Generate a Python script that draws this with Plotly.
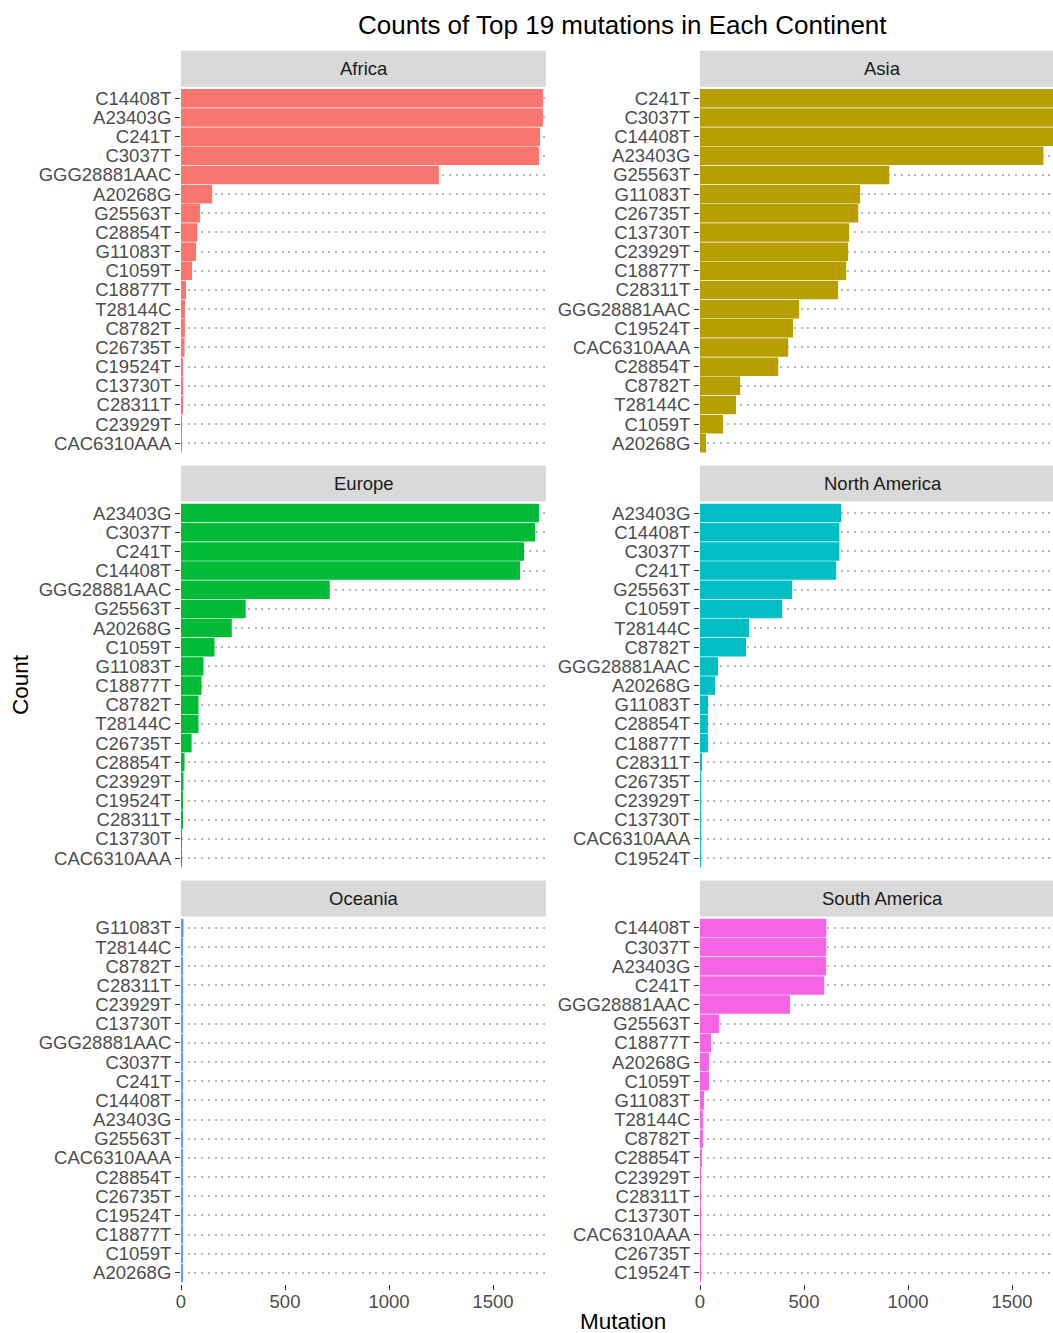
import plotly.graph_objects as go

W, H = 1053, 1333

continents = ["Africa", "Asia", "Europe", "North America", "Oceania", "South America"]
colors = ["#F8766D", "#B79F00", "#00BA38", "#00BFC4", "#619CFF", "#F564E3"]

africa_mutations = ["C14408T", "A23403G", "C241T", "C3037T", "GGG28881AAC", "A20268G", "G25563T",
                    "C28854T", "G11083T", "C1059T", "C18877T", "T28144C", "C8782T", "C26735T",
                    "C19524T", "C13730T", "C28311T", "C23929T", "CAC6310AAA"]
africa_counts = [1740, 1740, 1726, 1721, 1240, 150, 91, 78, 72, 53, 24, 19, 19, 17, 8, 8, 5, 4, 4]

asia_mutations = ["C241T", "C3037T", "C14408T", "A23403G", "G25563T", "G11083T", "C26735T",
                  "C13730T", "C23929T", "C18877T", "C28311T", "GGG28881AAC", "C19524T",
                  "CAC6310AAA", "C28854T", "C8782T", "T28144C", "C1059T", "A20268G"]
asia_counts = [1755, 1750, 1745, 1651, 910, 770, 761, 717, 712, 703, 664, 477, 448, 424, 376,
               193, 173, 111, 29]

europe_mutations = ["A23403G", "C3037T", "C241T", "C14408T", "GGG28881AAC", "G25563T", "A20268G",
                    "C1059T", "G11083T", "C18877T", "C8782T", "T28144C", "C26735T", "C28854T",
                    "C23929T", "C19524T", "C28311T", "C13730T", "CAC6310AAA"]
europe_counts = [1721, 1702, 1649, 1630, 715, 311, 244, 161, 108, 99, 84, 84, 51, 17, 12, 7, 5, 4, 3]

north_america_mutations = ["A23403G", "C14408T", "C3037T", "C241T", "G25563T", "C1059T", "T28144C",
                           "C8782T", "GGG28881AAC", "A20268G", "G11083T", "C28854T", "C18877T",
                           "C28311T", "C26735T", "C23929T", "C13730T", "CAC6310AAA", "C19524T"]
north_america_counts = [679, 670, 670, 655, 443, 395, 236, 221, 87, 72, 39, 38, 38, 5, 4, 4, 4, 4, 4]

oceania_mutations = ["G11083T", "T28144C", "C8782T", "C28311T", "C23929T", "C13730T", "GGG28881AAC",
                     "C3037T", "C241T", "C14408T", "A23403G", "G25563T", "CAC6310AAA", "C28854T",
                     "C26735T", "C19524T", "C18877T", "C1059T", "A20268G"]
oceania_counts = [12, 5, 5, 5, 5, 5, 5, 5, 5, 5, 5, 5, 5, 5, 5, 5, 5, 5, 5]

south_america_mutations = ["C14408T", "C3037T", "A23403G", "C241T", "GGG28881AAC", "G25563T",
                           "C18877T", "A20268G", "C1059T", "G11083T", "T28144C", "C8782T", "C28854T",
                           "C23929T", "C28311T", "C13730T", "CAC6310AAA", "C26735T", "C19524T"]
south_america_counts = [607, 607, 606, 597, 433, 91, 53, 43, 43, 19, 14, 14, 5, 4, 4, 4, 4, 4, 4]

x_ticks = [0, 500, 1000, 1500]

panels = [
    (africa_mutations, africa_counts),
    (asia_mutations, asia_counts),
    (europe_mutations, europe_counts),
    (north_america_mutations, north_america_counts),
    (oceania_mutations, oceania_counts),
    (south_america_mutations, south_america_counts),
]

# facet geometry in pixels
PX_PER_UNIT = 0.208
col_x = [(181.0, 546.0), (700.0, 1053.0)]
col_center = [363.5, 882.5]
row_top = [86.8, 501.6, 916.4]
panel_h = 368.0
strip_h = 36.0

FONT = "Liberation Sans, Arial, Helvetica, sans-serif"
TICK_FONT = dict(size=18.5, color="#4D4D4D", family=FONT)


def fx(p):
    return p / W


def fy(p):
    return 1 - p / H


fig = go.Figure()
layout = dict(
    template="none",
    width=W, height=H,
    margin=dict(l=0, r=0, t=0, b=0, pad=0, autoexpand=False),
    paper_bgcolor="white", plot_bgcolor="white",
    showlegend=False, bargap=0.035,
    font=dict(family=FONT, color="#4D4D4D"),
)
shapes, annotations = [], []

for i, (name, color, (muts, counts)) in enumerate(zip(continents, colors, panels)):
    r, c = divmod(i, 2)
    x0, x1 = col_x[c]
    top = row_top[r]
    bottom = top + panel_h
    n = i + 1
    xa = "x" if n == 1 else f"x{n}"
    ya = "y" if n == 1 else f"y{n}"
    xkey = "xaxis" if n == 1 else f"xaxis{n}"
    ykey = "yaxis" if n == 1 else f"yaxis{n}"

    fig.add_trace(go.Bar(
        x=counts, y=muts, orientation="h",
        marker=dict(color=color, line=dict(width=0)),
        xaxis=xa, yaxis=ya, name=name,
    ))

    bottom_row = r == 2
    layout[xkey] = dict(
        domain=[fx(x0), fx(x1)], anchor=ya, automargin=False,
        range=[0, (x1 - x0) / PX_PER_UNIT],
        showgrid=False, zeroline=False, showline=False,
        tickmode="array", tickvals=x_ticks, ticktext=[str(v) for v in x_ticks],
        ticks="outside" if bottom_row else "", ticklen=5, tickwidth=1.3, tickcolor="#333333",
        showticklabels=bottom_row, ticklabelstandoff=-5,
        tickfont=TICK_FONT,
    )
    layout[ykey] = dict(
        domain=[fy(bottom), fy(top)], anchor=xa, automargin=False,
        type="category", categoryorder="array", categoryarray=muts,
        range=[len(muts) - 0.4, -0.6],
        tickmode="array", tickvals=muts, ticktext=muts,
        ticks="outside", ticklen=5, tickwidth=1.3, tickcolor="#333333",
        tickfont=TICK_FONT,
        showgrid=True, gridcolor="#B8B8B8", gridwidth=1.7, griddash="2px,4.7px",
        zeroline=False, showline=False,
    )

    # strip header
    shapes.append(dict(
        type="rect", xref="paper", yref="paper", layer="below",
        x0=fx(x0), x1=fx(x1), y0=fy(top), y1=fy(top - strip_h),
        fillcolor="#D9D9D9", line=dict(width=0),
    ))
    annotations.append(dict(
        text=name, xref="paper", yref="paper",
        x=fx(col_center[c]), y=fy(top - strip_h / 2),
        xanchor="center", yanchor="middle", showarrow=False,
        font=dict(size=18.5, color="#1A1A1A", family=FONT),
    ))

annotations.append(dict(
    text="Counts of Top 19 mutations in Each Continent", xref="paper", yref="paper",
    x=fx(623), y=fy(25), xanchor="center", yanchor="middle", showarrow=False,
    font=dict(size=26, color="black", family=FONT),
))
annotations.append(dict(
    text="Count", xref="paper", yref="paper",
    x=fx(20), y=fy(685), xanchor="center", yanchor="middle", textangle=-90, showarrow=False,
    font=dict(size=22.5, color="black", family=FONT),
))
annotations.append(dict(
    text="Mutation", xref="paper", yref="paper",
    x=fx(623), y=fy(1336), xanchor="center", yanchor="bottom", showarrow=False,
    font=dict(size=22.5, color="black", family=FONT),
))

layout["shapes"] = shapes
layout["annotations"] = annotations
fig.update_layout(**layout)
fig.write_html("out.html")
